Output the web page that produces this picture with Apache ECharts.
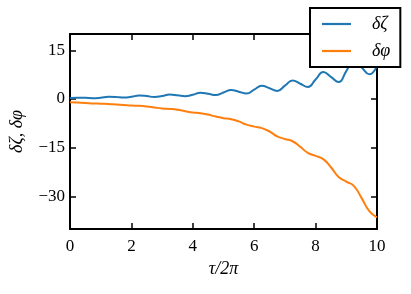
<!DOCTYPE html>
<html>
<head>
<meta charset="utf-8">
<script src="https://cdn.jsdelivr.net/npm/echarts@6/dist/echarts.min.js"></script>
<style>
html,body{margin:0;padding:0;background:#fff;}
#c{width:411px;height:294px;}
</style>
</head>
<body>
<div id="c"></div>
<script>
const tau = [0,0.25,0.5,0.75,1,1.25,1.5,1.75,2,2.25,2.5,2.75,3,3.25,3.5,3.75,4,4.25,4.5,4.75,5,5.25,5.5,5.75,6,6.25,6.5,6.75,7,7.25,7.5,7.75,8,8.25,8.5,8.75,9,9.25,9.5,9.75,10];
const dZeta = [0.3,0.4,0.35,0.25,0.4,0.7,0.65,0.45,0.7,1.05,0.9,0.6,0.9,1.35,1.15,0.85,1.3,1.95,1.6,1.2,2.0,2.8,2.25,1.7,2.9,4.1,3.3,2.5,4.1,5.7,4.7,3.7,6.0,8.3,6.8,5.2,8.6,11.8,9.7,7.6,10.3];
const dPhi = [-1.0,-1.1,-1.2,-1.35,-1.45,-1.55,-1.7,-1.85,-2.0,-2.1,-2.3,-2.6,-2.9,-3.05,-3.3,-3.75,-4.15,-4.35,-4.8,-5.4,-5.9,-6.2,-6.9,-7.9,-8.5,-8.95,-10.0,-11.5,-12.3,-13.0,-14.7,-16.6,-17.5,-18.5,-21.0,-24.0,-25.4,-26.8,-30.5,-34.5,-36.4];
const xTicks = [0,2,4,6,8,10];
const yTicks = [-30,-15,0,15];
const seriesNames = ['δζ','δφ'];

const font = 'Liberation Serif';
const fmt = v => (v < 0 ? '\u2212' + Math.abs(v) : String(v));
const axisLine = {show:true, onZero:false, lineStyle:{color:'#000', width:2}};
const tickIn = {show:true, inside:true, length:6, lineStyle:{color:'#000', width:1.5}};

const chart = echarts.init(document.getElementById('c'));
chart.setOption({
  animation:false,
  backgroundColor:'#fff',
  grid:{left:69, right:34, top:34, bottom:65},
  xAxis:[{
    type:'value', min:0, max:10, interval:2, position:'bottom',
    axisLine, axisTick:tickIn, splitLine:{show:false},
    axisLabel:{color:'#000', fontFamily:font, fontSize:17, margin:9, formatter:fmt},
    name:'τ/2π', nameLocation:'middle', nameGap:30,
    nameTextStyle:{color:'#000', fontFamily:font, fontSize:18, fontStyle:'italic'}
  },{
    type:'value', min:0, max:10, interval:2, position:'top',
    axisLine, axisTick:tickIn, splitLine:{show:false}, axisLabel:{show:false}
  }],
  yAxis:[{
    type:'value', min:-40, max:20, position:'left',
    axisLine, splitLine:{show:false},
    axisTick:Object.assign({}, tickIn, {customValues:yTicks}),
    axisLabel:{color:'#000', fontFamily:font, fontSize:17, margin:5, formatter:fmt, customValues:yTicks},
    name:'δζ, δφ', nameLocation:'middle', nameGap:44, nameRotate:90,
    nameTextStyle:{color:'#000', fontFamily:font, fontSize:18, fontStyle:'italic'}
  },{
    type:'value', min:-40, max:20, position:'right',
    axisLine, splitLine:{show:false},
    axisTick:Object.assign({}, tickIn, {customValues:yTicks}),
    axisLabel:{show:false, customValues:yTicks}
  }],
  legend:{
    left:310, top:8, orient:'vertical',
    width:88,
    padding:[6,10,6,12],
    itemGap:7, itemWidth:29, itemHeight:2.2, icon:'rect',
    backgroundColor:'#fff', borderColor:'#000', borderWidth:2,
    textStyle:{color:'#000', fontFamily:font, fontSize:18, fontStyle:'italic', lineHeight:20, padding:[0,0,0,16]},
    data:seriesNames
  },
  series:[{
    name:seriesNames[0], type:'line', smooth:0.5, showSymbol:false, symbol:'none',
    color:'#1f77b4', lineStyle:{width:2, color:'#1f77b4'},
    data:tau.map((t,i)=>[t,dZeta[i]])
  },{
    name:seriesNames[1], type:'line', smooth:0.5, showSymbol:false, symbol:'none',
    color:'#ff7f0e', lineStyle:{width:2, color:'#ff7f0e'},
    data:tau.map((t,i)=>[t,dPhi[i]])
  }]
});
</script>
</body>
</html>
